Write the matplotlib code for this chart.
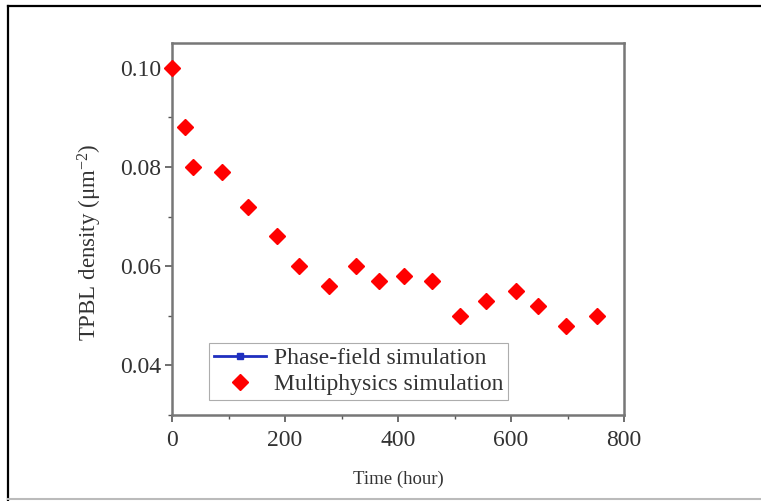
import matplotlib
matplotlib.use('Agg')
import matplotlib.pyplot as plt
from matplotlib.ticker import MultipleLocator
from matplotlib.lines import Line2D

# Multiphysics simulation
time_h  = [0, 23, 37, 88, 135, 185, 224, 277, 325, 366, 410, 460, 509, 555, 609, 648, 697, 752]
density = [0.100, 0.088, 0.080, 0.079, 0.072, 0.066, 0.060, 0.056, 0.060, 0.057,
           0.058, 0.057, 0.050, 0.053, 0.055, 0.052, 0.048, 0.050]

x_ticks = [0, 200, 400, 600, 800]
y_ticks = [0.04, 0.06, 0.08, 0.10]

plt.rcParams['font.family'] = ['Liberation Serif', 'DejaVu Serif']
plt.rcParams['mathtext.fontset'] = 'custom'
plt.rcParams['mathtext.rm'] = 'Liberation Serif'
plt.rcParams['mathtext.it'] = 'Liberation Serif:italic'

fig = plt.figure(figsize=(7.61, 5.01), dpi=100)
ax = fig.add_axes([172/761, 1-415/501, (624-172)/761, (415-43)/501])

# phase-field series only shows up in the legend
ax.plot([], [], color='#1f2fbf', lw=2, marker='s', ms=4, label='Phase-field simulation')
ax.plot(time_h, density, linestyle='none', marker='D', ms=8, color='#ff0000',
        markeredgecolor='#ff0000', label='Multiphysics simulation', clip_on=False, zorder=3)

ax.set_xlim(0, 800)
ax.set_ylim(0.03, 0.105)
ax.set_xticks(x_ticks)
ax.set_yticks(y_ticks)
ax.set_yticklabels(['%.2f' % v for v in y_ticks])
ax.xaxis.set_minor_locator(MultipleLocator(100))
ax.yaxis.set_minor_locator(MultipleLocator(0.01))
ax.tick_params(which='major', direction='out', length=5, width=1.2, color='#555555',
               labelsize=17, labelcolor='#333333')
ax.tick_params(axis='x', which='major', pad=6)
ax.tick_params(axis='y', which='major', pad=3)
ax.tick_params(which='minor', direction='out', length=3, width=1.0, color='#555555')
for s in ax.spines.values():
    s.set_color('#777777')
    s.set_linewidth(1.8)

ax.set_ylabel('TPBL density (μm$^{-2}$)', fontsize=16.5, color='#333333')
ax.yaxis.set_label_coords(-0.15, 0.465)
ax.set_xlabel('Time (hour)', fontsize=13.5, color='#333333', labelpad=14)

leg = ax.legend(loc='lower left', bbox_to_anchor=(0.082, 0.04), fontsize=17,
                frameon=True, fancybox=False, handlelength=2.2, handletextpad=0.35,
                borderpad=0.2, labelspacing=0.2, borderaxespad=0)
leg.get_frame().set_edgecolor('#999999')
leg.get_frame().set_linewidth(0.8)
for t in leg.get_texts():
    t.set_color('#333333')

# outer frame of the picture
fig.add_artist(Line2D([8/761, 8/761], [0, 1-6/501], transform=fig.transFigure, color='black', lw=1.6))
fig.add_artist(Line2D([8/761, 1], [1-6/501, 1-6/501], transform=fig.transFigure, color='black', lw=1.6))
fig.add_artist(Line2D([8/761, 1], [2/501, 2/501], transform=fig.transFigure, color='#bbbbbb', lw=1.5))

fig.savefig('out.png', dpi=100)
